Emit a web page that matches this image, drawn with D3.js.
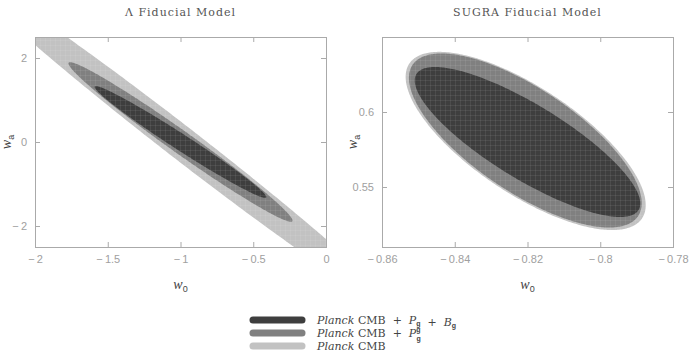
<!DOCTYPE html>
<html>
<head>
    <meta charset="utf-8">
    <style>
        body { margin: 0; background: white; }
        svg { display: block; }
        .frame { fill: none; stroke: #aaa; stroke-width: 1; }
        .tick line { stroke: #aaa; }
        .tick text { font: 11px "Liberation Sans", Arial, sans-serif; fill: #a0a0a0; }
        .title { font: 11px "DejaVu Serif", serif; fill: #555; letter-spacing: 1px; }
        .axlabel { font: italic 14px "Liberation Serif", serif; fill: #444; }
        .legend text { font: 11px "DejaVu Serif", serif; fill: #444; white-space: pre; }
    </style>
    <script src="https://d3js.org/d3.v7.min.js"></script>
</head>
<body>
<script>
// contour ellipses: center, half-extents in x and y, correlation
const shades = ["#c2c2c2", "#808080", "#3e3e3e"];
const legendLabels = ["Planck CMB + P_g + B_g", "Planck CMB + P_g^g", "Planck CMB"];

const lcdmEllipses = [
    {cx: -1.0, cy: 0.0, sx: 1.45, sy: 3.9, rho: -0.992},
    {cx: -1.0, cy: 0.0, sx: 0.77, sy: 1.9, rho: -0.985},
    {cx: -1.0, cy: 0.0, sx: 0.59, sy: 1.33, rho: -0.985}
];
const sugraEllipses = [
    {cx: -0.8205, cy: 0.5807, sx: 0.033, sy: 0.0594, rho: -0.72},
    {cx: -0.8206, cy: 0.581, sx: 0.032, sy: 0.058, rho: -0.72},
    {cx: -0.820, cy: 0.580, sx: 0.031, sy: 0.050, rho: -0.82}
];

const lcdmXTicks = [-2, -1.5, -1, -0.5, 0];
const lcdmYTicks = [-2, 0, 2];
const sugraXTicks = [-0.86, -0.84, -0.82, -0.8, -0.78];
const sugraYTicks = [0.55, 0.6];

const W = 692, H = 356;
const svg = d3.select("body").append("svg").attr("width", W).attr("height", H);

// faint mesh seen inside the filled contours
const pat = svg.append("defs").append("pattern").attr("id", "mesh")
    .attr("patternUnits", "userSpaceOnUse").attr("width", 5).attr("height", 5);
pat.append("path").attr("d", "M0,0.5H5M0.5,0V5")
    .attr("stroke", "#fff").attr("stroke-opacity", 0.07).attr("stroke-width", 1);

const panels = [
    {title: "\u039b Fiducial Model", left: 35, xDomain: [-2, 0], yDomain: [-2.5, 2.5],
     xTicks: lcdmXTicks, yTicks: lcdmYTicks, ellipses: lcdmEllipses},
    {title: "SUGRA Fiducial Model", left: 382, xDomain: [-0.86, -0.78], yDomain: [0.51, 0.65],
     xTicks: sugraXTicks, yTicks: sugraYTicks, ellipses: sugraEllipses}
];
const plotTop = 37, plotBottom = 247, pw = 291;

function ellipsePoints(e) {
    return d3.range(0, 2 * Math.PI + 0.01, Math.PI / 180).map(t => [
        e.cx + e.sx * Math.cos(t),
        e.cy + e.sy * (e.rho * Math.cos(t) + Math.sqrt(1 - e.rho * e.rho) * Math.sin(t))
    ]);
}

const minus = s => s.replace("-", "\u2212\u2009");

panels.forEach((p, i) => {
    const x = d3.scaleLinear().domain(p.xDomain).range([p.left, p.left + pw]);
    const y = d3.scaleLinear().domain(p.yDomain).range([plotBottom, plotTop]);
    const g = svg.append("g");

    g.append("clipPath").attr("id", "clip" + i)
        .append("rect").attr("x", p.left).attr("y", plotTop).attr("width", pw).attr("height", plotBottom - plotTop);

    const line = d3.line().x(d => x(d[0])).y(d => y(d[1]));
    const cg = g.append("g").attr("clip-path", `url(#clip${i})`);
    cg.selectAll("path.fill").data(p.ellipses).join("path")
        .attr("class", "fill")
        .attr("d", d => line(ellipsePoints(d)))
        .attr("fill", (d, j) => shades[j]);
    cg.append("path")
        .attr("d", line(ellipsePoints(p.ellipses[0])))
        .attr("fill", "url(#mesh)");

    const fmt = d => minus(String(d));
    g.append("g").attr("transform", `translate(0,${plotBottom})`)
        .call(d3.axisBottom(x).tickValues(p.xTicks).tickSize(-5).tickPadding(8).tickFormat(fmt))
        .call(a => a.select(".domain").remove());
    g.append("g").attr("transform", `translate(0,${plotTop})`)
        .call(d3.axisTop(x).tickValues(p.xTicks).tickSize(-5).tickFormat(""))
        .call(a => a.select(".domain").remove());
    g.append("g").attr("transform", `translate(${p.left},0)`)
        .call(d3.axisLeft(y).tickValues(p.yTicks).tickSize(-5).tickPadding(8).tickFormat(fmt))
        .call(a => a.select(".domain").remove());
    g.append("g").attr("transform", `translate(${p.left + pw},0)`)
        .call(d3.axisRight(y).tickValues(p.yTicks).tickSize(-5).tickFormat(""))
        .call(a => a.select(".domain").remove());

    g.append("rect").attr("class", "frame")
        .attr("x", p.left + 0.5).attr("y", plotTop + 0.5).attr("width", pw).attr("height", plotBottom - plotTop);

    g.append("text").attr("class", "title")
        .attr("x", p.left + pw / 2).attr("y", 16).attr("text-anchor", "middle").text(p.title);

    const xl = g.append("text").attr("class", "axlabel")
        .attr("x", p.left + pw / 2).attr("y", 289).attr("text-anchor", "middle");
    xl.append("tspan").text("w");
    xl.append("tspan").attr("dy", 3).attr("font-size", 9).attr("font-style", "normal")
        .attr("font-family", "Liberation Sans").text("0");

    const yl = g.append("text").attr("class", "axlabel")
        .attr("transform", `translate(${i === 0 ? 11 : 357},${(plotTop + plotBottom) / 2}) rotate(-90)`)
        .attr("text-anchor", "middle");
    yl.append("tspan").text("w");
    yl.append("tspan").attr("dy", 3).attr("font-size", 9).attr("font-style", "normal")
        .attr("font-family", "Liberation Sans").text("a");
});

// legend
const legendY = d3.scalePoint().domain(d3.range(3)).range([320, 346]);
const legendShades = [shades[2], shades[1], shades[0]];
const lg = svg.append("g").attr("class", "legend");
lg.selectAll("line").data(d3.range(3)).join("line")
    .attr("x1", 253).attr("x2", 302)
    .attr("y1", d => legendY(d)).attr("y2", d => legendY(d))
    .attr("stroke", d => legendShades[d]).attr("stroke-width", 7).attr("stroke-linecap", "round");

lg.selectAll("text").data(legendLabels).join("text")
    .attr("x", 317).attr("y", (d, k) => legendY(k) + 4)
    .each(function(d) {
        const t = d3.select(this);
        t.append("tspan").attr("font-style", "italic").text("Planck");
        const rest = d.replace("Planck", "").replace(/ \+ /g, "  +  ");
        const parts = rest.split(/(P_g\^g|P_g|B_g)/);
        parts.forEach(s => {
            if (s === "P_g^g") {
                t.append("tspan").attr("font-style", "italic").text("P");
                t.append("tspan").attr("dy", -5).attr("font-size", 7).attr("font-weight", "bold")
                    .attr("font-family", "Liberation Sans").text("g");
                t.append("tspan").attr("dx", -4).attr("dy", 9).attr("font-size", 7).attr("font-weight", "bold")
                    .attr("font-family", "Liberation Sans").text("g");
                t.append("tspan").attr("dy", -4).text("");
            } else if (s === "P_g" || s === "B_g") {
                t.append("tspan").attr("font-style", "italic").text(s[0]);
                t.append("tspan").attr("dy", 2).attr("font-size", 7).attr("font-weight", "bold")
                    .attr("font-family", "Liberation Sans").text("g");
                t.append("tspan").attr("dy", -2).text("");
            } else if (s) {
                t.append("tspan").text(s);
            }
        });
    });
</script>
</body>
</html>
